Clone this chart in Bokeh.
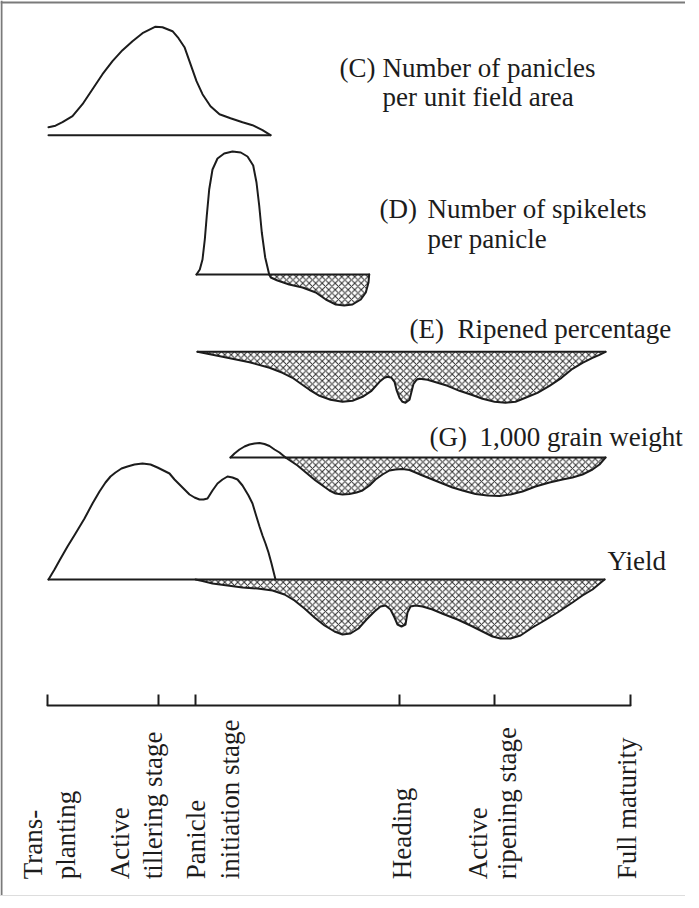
import math
from bokeh.plotting import figure
from bokeh.models import Range1d, Span
from bokeh.core.properties import value
from bokeh.embed import file_html
from bokeh.resources import INLINE

# ---------------- data (growth-time position t, response relative to each baseline) -------------
stage_names = ["Transplanting", "Active tillering stage", "Panicle initiation stage",
               "Heading", "Active ripening stage", "Full maturity"]
stage_pos = [0, 111, 148, 352, 447, 583]

# (C) Number of panicles per unit field area
c_t = [1, 8, 15, 25, 35, 45, 55, 65, 75, 85, 95, 105, 108, 115, 125, 131, 137, 143, 149, 155, 163,
       172, 183, 195, 205, 215, 223]
c_v = [8, 9.5, 13, 19, 31, 46, 61, 74, 85, 94, 102, 107, 108.5, 108, 104, 97, 88, 71, 54, 41, 29,
       21, 17, 13, 10, 5, 0]

# (D) Number of spikelets per panicle
d_pos_t = [149, 152.3, 155, 157.3, 159.3, 161.7, 165, 170, 176.7, 185, 193.3, 200, 205.7, 209,
           211.7, 214.3, 217.7, 221.7]
d_pos_v = [0, 5, 15, 35, 59, 85, 105, 116, 121, 123, 122, 118, 109, 92, 69, 42, 17, 0]
d_neg_t = [221.7, 223.3, 230, 241.7, 255, 268.3, 278.3, 288.3, 296.7, 305, 313.3, 318.3, 321, 321.7]
d_neg_v = [0, -3, -6, -10, -13, -18, -25, -30, -31, -30, -25, -18, -8, 0]

# (E) Ripened percentage
e_t = [150, 175, 202, 222, 235, 245, 252, 262, 272, 283, 295, 305, 315, 324, 332, 337, 340, 344,
       347, 349, 352, 355, 358, 362, 364, 366, 369, 372, 380, 390, 400, 412, 424, 435, 447, 458,
       468, 478, 490, 502, 514, 525, 535, 545, 552, 558]
e_v = [0, -5, -10.5, -16, -21, -26, -31, -38, -44, -48, -50, -49, -45, -39, -30, -26, -25, -26,
       -30, -38, -46, -50, -51, -48, -40, -32, -28, -27, -28, -31, -34, -39, -43, -47, -50, -51,
       -50, -46, -41, -34, -26, -17, -11, -6, -3, 0]

# (G) 1,000 grain weight
g_pos_t = [183, 187, 192, 197, 202, 207, 212, 217, 222, 227, 232, 238]
g_pos_v = [0, 4, 8, 11, 13, 14, 14.5, 13.5, 11.5, 8, 5, 0]
g_neg_t = [238, 244, 250, 256, 262, 268, 275, 282, 288, 295, 302, 309, 315, 322, 328, 335, 342,
           348, 355, 362, 368, 375, 385, 395, 405, 415, 428, 440, 452, 463, 475, 488, 502, 515,
           525, 535, 545, 552, 558]
g_neg_v = [0, -4, -8, -13, -18, -23, -28, -33, -36, -37, -36.5, -35, -33, -28, -22, -17, -13, -12,
           -11.5, -12.5, -15, -18, -22, -26, -30, -33, -36.5, -38, -38.5, -37, -34, -29, -25, -22,
           -20, -17, -12, -7, 0]

# Yield
y_pos_t = [1, 7, 12, 20, 28, 37, 45, 52, 58, 63, 68, 74, 80, 87, 95, 103, 110, 116, 122, 127, 132,
           137, 142, 147, 152, 156, 160, 165, 170, 175, 180, 185, 190, 195, 201, 205, 208, 212,
           215, 218, 221, 224, 228]
y_pos_v = [0, 10, 19, 33, 46, 61, 76, 88, 97, 103, 107, 111, 113, 115, 116, 115, 112, 109, 106,
           100, 95, 90, 85, 82, 80, 80, 81, 89, 96, 100, 103, 102, 100, 94, 84, 76, 66, 53, 44,
           36, 27, 16, 0]
y_neg_t = [148, 155, 165, 180, 195, 210, 225, 237, 247, 257, 267, 277, 287, 295, 303, 311, 319,
           327, 333, 338, 343, 347, 350, 354, 358, 360, 363, 368, 375, 385, 397, 410, 423, 435,
           445, 453, 463, 473, 485, 497, 510, 525, 535, 545, 551, 557]
y_neg_v = [0, -1.5, -4, -6, -8, -9, -11, -15, -21, -29, -38, -46, -52, -55, -54, -49, -40, -32,
           -27, -26, -30, -38, -45, -47, -45, -33, -27, -26, -27, -30, -35, -40, -46, -52, -57,
           -59, -59, -56, -48, -41, -33, -23, -16, -10, -5, 0]

# ---------------- layout (baselines, extents, text placement) ----------------
W, H = 685, 896
INK = "#1c1c1c"
FONT = value("Liberation Serif")

base_c, base_d, base_e, base_g, base_y, base_axis = 761.3, 622, 544.7, 439, 317, 191

p = figure(width=W, height=H, x_range=Range1d(-47, 638), y_range=Range1d(0, H),
           output_backend="svg", toolbar_location=None, min_border=0,
           x_axis_location=None, y_axis_location=None)
p.grid.visible = False
p.outline_line_color = None
p.background_fill_color = "white"

# frame
p.add_layout(Span(location=-46, dimension="height", line_color="#7a7a7a", line_width=2))
p.add_layout(Span(location=894, dimension="width", line_color="#7a7a7a", line_width=2))
p.add_layout(Span(location=1, dimension="width", line_color="#dddddd", line_width=1))

hatch = dict(fill_color="white", hatch_pattern="x", hatch_scale=6.5, hatch_color="#2a2a2a",
             hatch_weight=1.0)
line = dict(line_color=INK, line_width=2, line_join="round", line_cap="round")


def shaded(ts, vs, base):
    p.varea(x=ts, y1=base, y2=[base + v for v in vs], **hatch)
    p.line(ts, [base + v for v in vs], **line)


def curve(ts, vs, base):
    p.line(ts, [base + v for v in vs], **line)


def baseline(t0, t1, base):
    p.line([t0, t1], [base, base], **line)


# (C)
curve(c_t, c_v, base_c)
baseline(c_t[0], c_t[-1], base_c)
# (D)
shaded(d_neg_t, d_neg_v, base_d)
curve(d_pos_t, d_pos_v, base_d)
baseline(d_pos_t[0], d_neg_t[-1], base_d)
# (E)
shaded(e_t, e_v, base_e)
baseline(e_t[0], e_t[-1], base_e)
# (G)
shaded(g_neg_t, g_neg_v, base_g)
curve(g_pos_t, g_pos_v, base_g)
baseline(g_pos_t[0], g_neg_t[-1], base_g)
# Yield
shaded(y_neg_t, y_neg_v, base_y)
curve(y_pos_t, y_pos_v, base_y)
baseline(y_pos_t[0], y_neg_t[-1], base_y)

# growth-stage axis
p.line([stage_pos[0], stage_pos[-1]], [base_axis, base_axis], **line)
p.segment(x0=stage_pos, y0=[base_axis] * len(stage_pos), x1=stage_pos,
          y1=[base_axis + 11] * len(stage_pos), line_color=INK, line_width=2)

# stage labels (rotated, one entry per text line)
label_lines = [["Trans-", "planting"], ["Active", "tillering stage"],
               ["Panicle", "initiation stage"], ["Heading"], ["Active", "ripening stage"],
               ["Full maturity"]]
label_offsets = [[-15, 18], [-39, -6], [0, 34], [2], [-17, 12], [-4]]
lx, lt = [], []
for pos, lines, offs in zip(stage_pos, label_lines, label_offsets):
    for s, o in zip(lines, offs):
        lx.append(pos + o)
        lt.append(s)
p.text(x=lx, y=[17.3] * len(lx), text=lt, angle=math.pi / 2, text_font=FONT,
       text_font_size="27px", text_color=INK, text_align="left", text_baseline="alphabetic")

# series annotations
ann_text = ["(C)", "Number of panicles", "per unit field area",
            "(D)", "Number of spikelets", "per panicle",
            "(E)", "Ripened percentage",
            "(G)", "1,000 grain weight",
            "Yield"]
ann_x = [292, 335, 335, 332, 380, 380, 362, 410, 382, 432, 560]
ann_y = [829, 829, 800, 688, 688, 658, 568, 568, 460, 460, 336]
p.text(x=ann_x, y=ann_y, text=ann_text, text_font=FONT, text_font_size="27px",
       text_color=INK, text_align="left", text_baseline="alphabetic")

open("out.html", "w").write(file_html(p, INLINE))
